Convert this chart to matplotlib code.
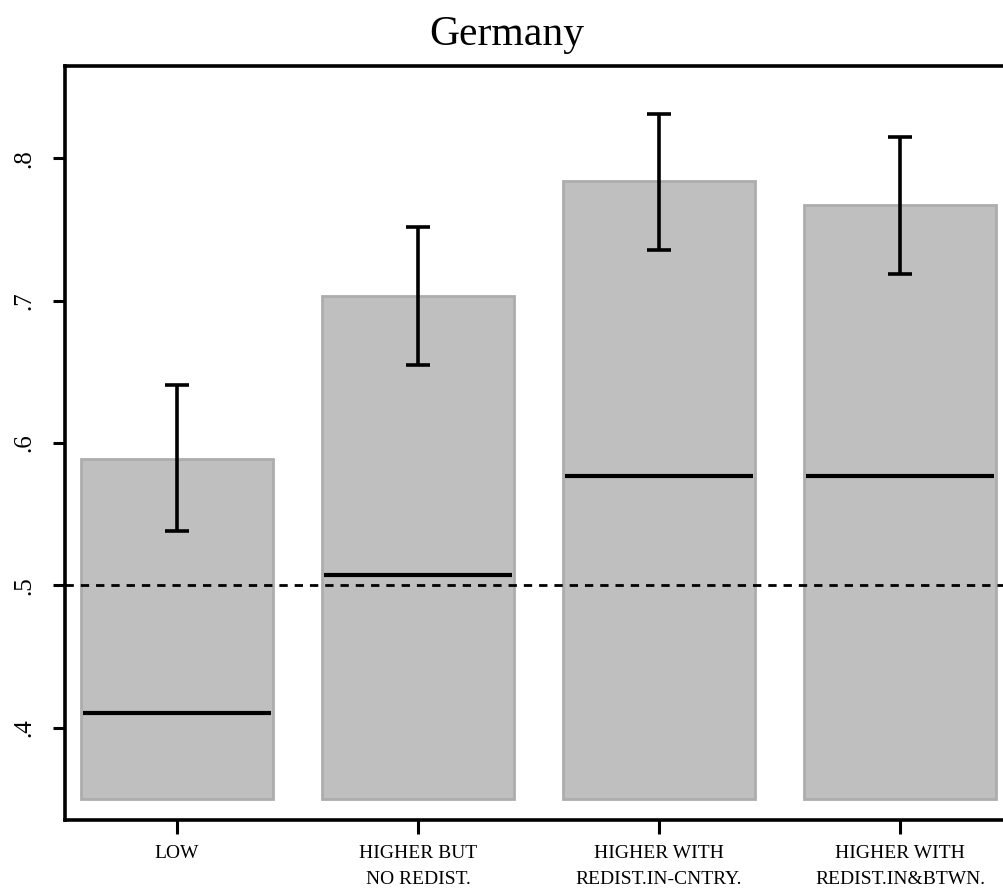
import matplotlib
matplotlib.use("Agg")
import matplotlib.pyplot as plt

categories = ["LOW", "HIGHER BUT\nNO REDIST.", "HIGHER WITH\nREDIST.IN-CNTRY.", "HIGHER WITH\nREDIST.IN&BTWN."]
means = [0.589, 0.703, 0.784, 0.767]
ci_low = [0.538, 0.655, 0.736, 0.719]
ci_high = [0.641, 0.752, 0.831, 0.815]
benchmark = [0.410, 0.507, 0.577, 0.577]
bar_base = 0.35
ref_line = 0.5
yticks = [0.4, 0.5, 0.6, 0.7, 0.8]
ytick_labels = [".4", ".5", ".6", ".7", ".8"]

plt.rcParams['font.family'] = ['Liberation Serif', 'DejaVu Serif']

fig = plt.figure(figsize=(10.04, 8.9), dpi=100)
ax = fig.add_axes([65 / 1004, 70 / 890, 947 / 1004, 754 / 890])

x = list(range(len(categories)))
heights = [m - bar_base for m in means]
ax.bar(x, heights, bottom=bar_base, width=0.8, color='#bfbfbf',
       edgecolor='#adadad', linewidth=2, zorder=1)

# benchmark lines inside bars
for xi, b in zip(x, benchmark):
    ax.hlines(b, xi - 0.39, xi + 0.39, color='black', linewidth=3, zorder=3)

# confidence intervals
ax.vlines(x, ci_low, ci_high, color='black', linewidth=2.6, zorder=4)
for xi, lo, hi in zip(x, ci_low, ci_high):
    ax.hlines([lo, hi], xi - 0.05, xi + 0.05, color='black', linewidth=2.6, zorder=4)

ax.axhline(ref_line, color='black', linestyle=(0, (3, 2.5)), linewidth=2, zorder=2)

ax.set_xlim(-0.465, 3.465)
ax.set_ylim(0.335, 0.865)

ax.set_xticks(x)
ax.set_xticklabels(categories, fontsize=14, linespacing=1.7)
ax.set_yticks(yticks)
ax.set_yticklabels(ytick_labels, fontsize=18, rotation=90, va='center')
ax.tick_params(axis='x', length=10, width=2.2, pad=8)
ax.tick_params(axis='y', length=9, width=2.2, pad=12)

for side in ['left', 'bottom', 'top']:
    ax.spines[side].set_linewidth(2.6)
ax.spines['right'].set_visible(False)

fig.text(507 / 1004, 1 - 35 / 890, "Germany", fontsize=30, ha='center', va='center')

fig.savefig("out.png", dpi=100, facecolor='white')
